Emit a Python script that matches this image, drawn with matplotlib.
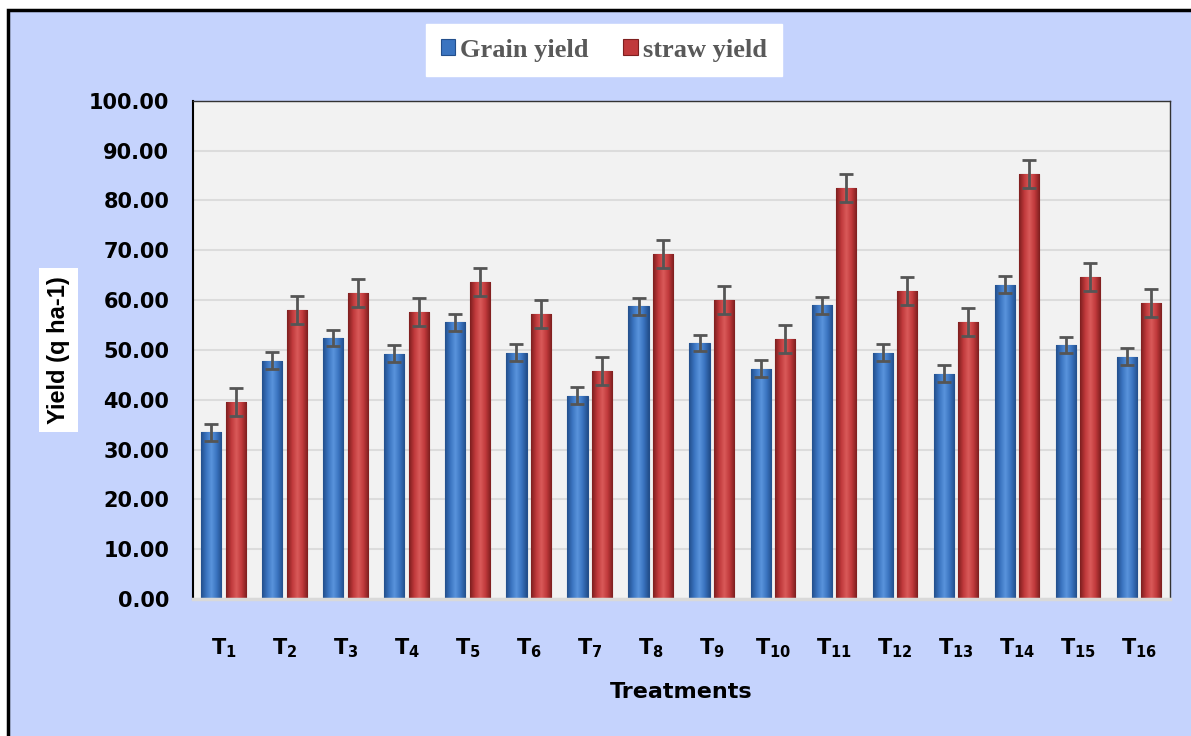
import matplotlib.pyplot as plt
import numpy as np
from matplotlib.patches import Rectangle
from matplotlib.colors import LinearSegmentedColormap

treatments = [r'$\mathbf{T_{%d}}$' % i for i in range(1, 17)]
grain = [33.5, 47.8, 52.4, 49.2, 55.6, 49.4, 40.8, 58.8,
         51.4, 46.2, 59.0, 49.4, 45.2, 63.1, 51.0, 48.6]
straw = [39.6, 58.0, 61.4, 57.6, 63.7, 57.2, 45.8, 69.3,
         60.0, 52.2, 82.5, 61.8, 55.6, 85.3, 64.7, 59.4]
grain_err = [1.7] * 16
straw_err = [2.8] * 16

plt.rcParams['mathtext.fontset'] = 'dejavusans'

fig = plt.figure(figsize=(11.91, 7.36), dpi=100)
fig.patch.set_facecolor('white')
fig.patches.append(Rectangle((8 / 1191, -0.02), 1.05, 1 - 10 / 736 + 0.02,
                             transform=fig.transFigure, facecolor='#c5d3fd',
                             edgecolor='black', linewidth=2.5, zorder=-5))

ax = fig.add_axes([0.162, 0.186, 0.820, 0.677])
ax.set_facecolor('#f2f2f2')

x = np.arange(len(treatments))
w = 0.33
off = 0.2


def gradient_bars(xs, vals, dark, mid, light):
    cmap = LinearSegmentedColormap.from_list('g', [dark, mid, light, mid, dark])
    grad = np.linspace(0, 1, 64).reshape(1, -1)
    bars = ax.bar(xs, vals, w, color=mid, edgecolor=dark, linewidth=0.8, zorder=2)
    for b in bars:
        im = ax.imshow(grad, cmap=cmap, aspect='auto', zorder=2.1,
                       extent=[b.get_x(), b.get_x() + b.get_width(), 0, b.get_height()])
        im.set_clip_path(b)
    return bars


gb = gradient_bars(x - off, grain, '#234f8c', '#3a74c0', '#5a94dc')
sb = gradient_bars(x + off, straw, '#7e1f1f', '#c0393b', '#d95a5a')

ax.errorbar(x - off, grain, yerr=grain_err, fmt='none', ecolor='#555555',
            elinewidth=2, capsize=5, capthick=2, zorder=3)
ax.errorbar(x + off, straw, yerr=straw_err, fmt='none', ecolor='#555555',
            elinewidth=2, capsize=5, capthick=2, zorder=3)

ax.set_xlim(-0.5, len(treatments) - 0.5)
ax.set_ylim(0, 100)
ax.set_yticks(np.arange(0, 101, 10))
ax.set_yticklabels([f'{v:.2f}' for v in range(0, 101, 10)],
                   fontsize=15, fontweight='bold')
ax.set_xticks(x)
ax.set_xticklabels(treatments, fontsize=15)
ax.tick_params(axis='y', length=0, pad=17)
ax.tick_params(axis='x', length=0, pad=27)
ax.yaxis.grid(True, color='#dcdcdc', linewidth=1.5, zorder=0)
ax.set_axisbelow(True)
for s in ['top', 'right']:
    ax.spines[s].set_color('#333333')
    ax.spines[s].set_linewidth(1)
ax.spines['left'].set_color('black')
ax.spines['left'].set_linewidth(1.5)
ax.spines['bottom'].set_color('#d9d9d9')
ax.spines['bottom'].set_linewidth(2.5)

ax.set_xlabel('Treatments', fontsize=16, fontweight='bold', labelpad=16)
fig.text(0.049, 0.524, 'Yield (q ha-1)', rotation=90, fontsize=17, fontweight='bold',
         fontfamily='Liberation Sans', ha='center', va='center',
         bbox=dict(facecolor='white', edgecolor='none', pad=6))

leg = fig.legend([gb, sb], ['Grain yield', 'straw yield'], loc='center',
                 bbox_to_anchor=(0.507, 0.932), ncol=2, frameon=True,
                 fancybox=False, edgecolor='white', framealpha=1,
                 prop={'family': 'Liberation Serif', 'weight': 'bold', 'size': 19},
                 handlelength=0.55, handleheight=0.55, handletextpad=0.2,
                 columnspacing=1.3, borderpad=0.55, borderaxespad=0)
for t in leg.get_texts():
    t.set_color('#595959')

fig.savefig('out.png', dpi=100, facecolor=fig.get_facecolor())
